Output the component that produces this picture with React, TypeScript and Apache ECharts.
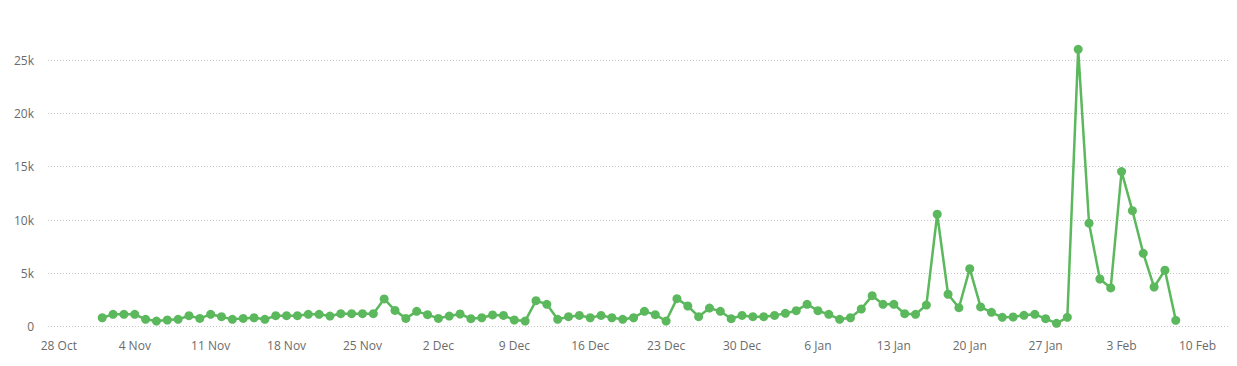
import React, { useEffect, useRef } from "react";
import * as echarts from "echarts";

// First day of the daily series; one value per consecutive day
const startDate = "2024-11-01";
const values = [
  // Nov
  840, 1160, 1160, 1160, 690, 530, 630, 690, 1030, 780,
  1160, 940, 690, 780, 840, 690, 1030, 1030, 1030, 1160,
  1160, 1000, 1220, 1220, 1220, 1220, 2600, 1530, 780, 1440,
  // Dec
  1130, 780, 1000, 1190, 750, 840, 1100, 1060, 630, 530,
  2440, 2100, 690, 940, 1060, 840, 1060, 840, 690, 840,
  1440, 1130, 530, 2630, 1940, 940, 1750, 1440, 750, 1060,
  940,
  // Jan
  940, 1060, 1250, 1500, 2100, 1500, 1160, 690, 840, 1660,
  2910, 2100, 2100, 1220, 1160, 2030, 10540, 3040, 1780, 5440,
  1850, 1350, 880, 910, 1070, 1160, 750, 320, 880, 26000,
  9700,
  // Feb
  4470, 3630, 14540, 10880, 6880, 3720, 5290, 600,
];

const axisStart = "2024-10-27";
const axisEnd = "2025-02-13";
const tickDates = [
  "2024-10-28", "2024-11-04", "2024-11-11", "2024-11-18", "2024-11-25",
  "2024-12-02", "2024-12-09", "2024-12-16", "2024-12-23", "2024-12-30",
  "2025-01-06", "2025-01-13", "2025-01-20", "2025-01-27", "2025-02-03",
  "2025-02-10",
];
const tickLabels = [
  "28 Oct", "4 Nov", "11 Nov", "18 Nov", "25 Nov", "2 Dec", "9 Dec",
  "16 Dec", "23 Dec", "30 Dec", "6 Jan", "13 Jan", "20 Jan", "27 Jan",
  "3 Feb", "10 Feb",
];
const yTicks = [0, 5000, 10000, 15000, 20000, 25000];

const DAY = 86400000;
const toMs = (s: string) => Date.parse(s + "T00:00:00Z");
// x values are day offsets from the axis start
const dayOf = (s: string) => Math.round((toMs(s) - toMs(axisStart)) / DAY);

export default function App() {
  const ref = useRef<HTMLDivElement>(null);

  useEffect(() => {
    if (!ref.current) return;
    const chart = echarts.init(ref.current, undefined, { renderer: "svg" });
    const start = dayOf(startDate);
    const data = values.map((v, i) => [start + i, v]);
    const tickDays = tickDates.map(dayOf);
    const labelFor = (val: number) => {
      const idx = tickDays.findIndex((t) => Math.abs(t - val) < 0.5);
      return idx >= 0 ? tickLabels[idx] : "";
    };
    chart.setOption({
      animation: false,
      textStyle: { fontFamily: "Open Sans, sans-serif" },
      grid: { left: 48, right: 7, top: 60, bottom: 39.3, containLabel: false },
      xAxis: {
        type: "value",
        min: 0,
        max: dayOf(axisEnd),
        axisLine: { show: false },
        axisTick: { show: false },
        splitLine: { show: false },
        axisLabel: {
          customValues: tickDays,
          formatter: (val: number) => labelFor(val),
          color: "#6b6b6b",
          fontSize: 12,
          margin: 13,
          hideOverlap: false,
        },
      },
      yAxis: {
        type: "value",
        min: 0,
        max: 25000,
        interval: 5000,
        axisLine: { show: false },
        axisTick: { show: false },
        axisLabel: {
          color: "#6b6b6b",
          fontSize: 12,
          margin: 14,
          formatter: (v: number) =>
            yTicks.includes(v) ? (v === 0 ? "0" : v / 1000 + "k") : "",
        },
        splitLine: {
          show: true,
          lineStyle: { color: "#c8c8c8", type: [1, 2], width: 1 },
        },
      },
      series: [
        {
          type: "line",
          data,
          clip: false,
          symbol: "circle",
          symbolSize: 9,
          showAllSymbol: true,
          lineStyle: { color: "#5cb85c", width: 2.5 },
          itemStyle: { color: "#5cb85c" },
        },
      ],
    });
    return () => chart.dispose();
  }, []);

  return (
    <div
      ref={ref}
      style={{ position: "absolute", left: 0, top: 0, width: 1237, height: 366 }}
    />
  );
}
